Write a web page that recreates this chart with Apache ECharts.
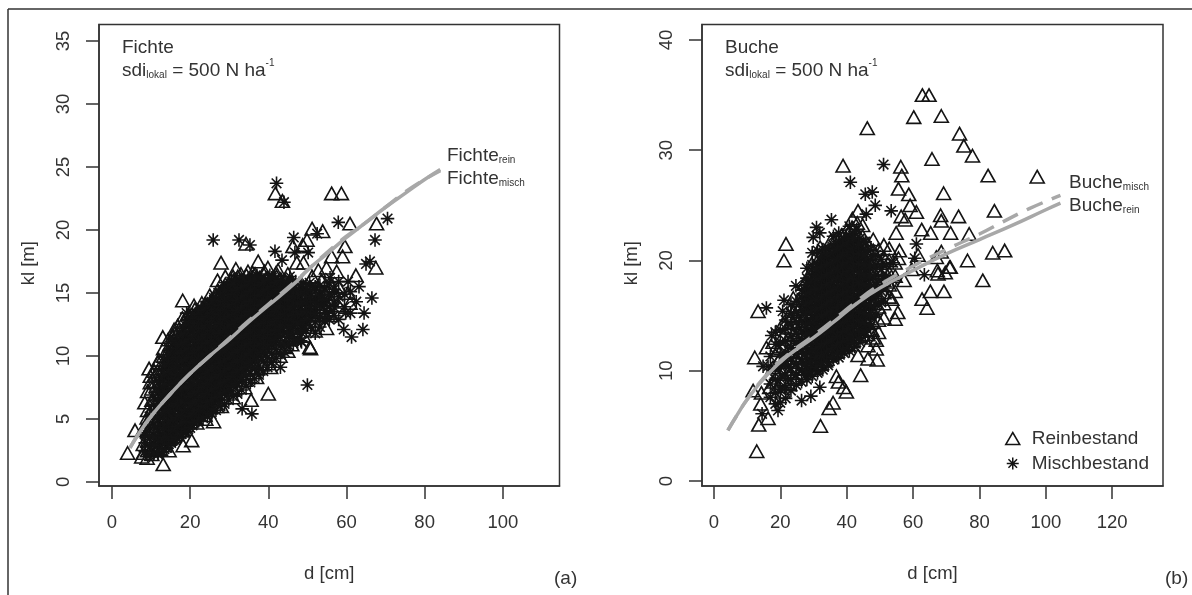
<!DOCTYPE html>
<html><head><meta charset="utf-8"><style>html,body{margin:0;padding:0;background:#fff}#c{width:1192px;height:595px}</style>
<script src="https://cdn.jsdelivr.net/npm/echarts@6/dist/echarts.min.js"></script></head><body><div id="c"></div><script>
// ---- tick labels
const xTicksFichte=[0,20,40,60,80,100], yTicksFichte=[0,5,10,15,20,25,30,35];
const xTicksBuche=[0,20,40,60,80,100,120], yTicksBuche=[0,10,20,30,40];
// ---- Fichte: isolated points read one by one [d,kl]
const fichteReinSolo=[[41.8,22.9],[43.6,22.3],[27.9,17.4],[31.7,16.9],[34.8,16.7],[37.4,17.5],[34.3,18.9],[46.3,18.7],[39.9,17],[47.3,17.4],[42.5,16.8],[56.2,22.9],[58.7,22.9],[60.9,20.5],[67.7,20.5],[51.2,20.1],[53.9,19.9],[49.9,19.2],[48.8,18.8],[59.6,18.7],[49,17.4],[56.2,17.9],[59,17.9],[67.5,17],[57.5,16.7],[62.4,16.4],[51.2,16.3],[54.9,17],[52.8,16.8],[53.6,16],[60.4,15],[60.9,14.2],[54.9,12.2],[45.5,11.6],[44.4,10.7],[50.6,10.7],[4,2.3],[5.9,4.1],[13.1,1.4],[14.6,2.5],[18.2,2.9],[20.4,3.3],[26,4.8],[23.8,5.3],[21.7,4.7],[26.8,6],[35.6,6.5],[40,7],[50.8,10.6],[45,10.4],[40.6,9.1],[38.4,9.4],[18.1,14.4],[21.2,13.7],[23.8,14.1],[13,11.5],[16.1,11.8],[15.9,12.1],[18.2,12.7],[9.5,9],[11.8,9.5],[14.8,10.9],[11,8.4],[9.1,7.2],[8.4,6.3],[9,5.1],[7.6,2],[9,1.9]];
const fichteMischSolo=[[42.1,23.7],[44,22.2],[25.9,19.2],[32.5,19.2],[35.3,18.8],[41.7,18.3],[46.5,19.4],[46.8,18.2],[43.5,17.6],[45.5,16.3],[57.9,20.6],[70.5,20.9],[67.3,19.2],[52.5,19.7],[50.2,18.2],[65,17.3],[66,17.5],[60.4,15.9],[63.2,15.5],[55.8,16.2],[66.5,14.6],[64.5,13.4],[59.8,13.4],[59.3,12.1],[61.3,11.5],[64.2,12.1],[48.5,12.2],[48.5,11.1],[53,13],[33.3,5.8],[35.8,5.4],[50,7.7],[48.3,11.2],[43.1,9.1],[19.1,13.4]];
// ---- Fichte: dense cloud read column by column [d,[kl...]]
const fichteMischCloud=[[8.5,[2.4,3.1,3.9]],[9.6,[2.1,2.8,3.6,4.3,5.2]],[10.7,[2.3,3,3.7,4.5,5.3,6.1,6.7]],[11.8,[2.2,2.9,3.5,4.2,5,5.7,6.4,7.2,7.9]],[12.9,[2.4,3.2,3.8,4.6,5.2,6,6.6,7.3,8.1,8.8]],[14,[2.7,3.3,4.1,4.8,5.4,6.2,6.9,7.5,8.3,9,9.7]],[15.1,[3.1,3.7,4.4,5.1,5.8,6.4,7.1,7.9,8.5,9.2,9.9,10.5]],[16.2,[3.3,4,4.7,5.3,6,6.8,7.4,8.1,8.7,9.5,10.2,10.8]],[17.3,[3.6,4.3,5,5.6,6.4,7,7.7,8.4,9,9.8,10.4,11.1,11.7]],[18.4,[3.9,4.5,5.3,6,6.6,7.3,8,8.6,9.3,10,10.7,11.3,12]],[19.5,[4.2,4.9,5.5,6.2,6.9,7.6,8.2,8.9,9.6,10.3,10.9,11.6,12.3,12.9]],[20.6,[4.5,5.1,5.8,6.5,7.1,7.8,8.5,9.2,9.8,10.6,11.2,11.9,12.5,13.2]],[21.7,[4.8,5.5,6.1,6.8,7.4,8.1,8.8,9.4,10.1,10.8,11.5,12.1,12.8,13.4]],[22.8,[5.2,5.8,6.5,7.1,7.8,8.4,9.1,9.8,10.4,11.1,11.8,12.4,13.1,13.8]],[23.9,[5.5,6.2,6.8,7.5,8.1,8.8,9.5,10.1,10.8,11.4,12.1,12.8,13.4,14]],[25,[5.9,6.5,7.2,7.8,8.5,9.1,9.8,10.5,11.1,11.7,12.4,13.1,13.7,14.3]],[26.1,[6.3,6.9,7.5,8.2,8.8,9.5,10.2,10.8,11.5,12.1,12.7,13.4,14,14.6]],[27.2,[6.6,7.2,7.9,8.5,9.2,9.8,10.5,11.1,11.8,12.4,13.1,13.7,14.3,15]],[28.3,[7,7.6,8.3,8.9,9.5,10.2,10.8,11.5,12.1,12.8,13.4,14,14.7,15.3]],[29.4,[7.3,8,8.6,9.2,9.9,10.5,11.2,11.8,12.4,13.1,13.7,14.4,15,15.5]],[30.5,[7.7,8.3,9,9.6,10.2,10.9,11.5,12.2,12.8,13.4,14.1,14.7,15.3,15.9]],[31.6,[8,8.6,9.3,9.9,10.6,11.2,11.8,12.5,13.1,13.8,14.4,15,15.6,16.1]],[32.7,[8.4,9.1,9.7,10.3,10.9,11.6,12.2,12.8,13.5,14.1,14.7,15.3,15.9]],[33.8,[8.8,9.4,10,10.7,11.3,11.9,12.6,13.2,13.8,14.4,15,15.7,16.2]],[34.9,[9.2,9.8,10.4,11,11.7,12.3,12.9,13.5,14.2,14.8,15.4,16]],[36,[9.5,10.1,10.8,11.4,12,12.6,13.2,13.9,14.5,15.1,15.7,16.3]],[37.1,[9.9,10.5,11.1,11.7,12.4,13,13.6,14.2,14.8,15.4,16,16.4]],[38.2,[10.3,10.9,11.5,12.1,12.7,13.3,14,14.6,15.2,15.8,16.2]],[39.3,[10.6,11.3,11.8,12.5,13.1,13.7,14.3,14.9,15.5,16.1]],[40.4,[11,11.6,12.2,12.9,13.4,14,14.6,15.2,15.8,16.4]],[41.5,[11.4,12,12.6,13.2,13.8,14.4,15,15.6,16.1]],[42.6,[11.9,12.4,13,13.7,14.2,14.8,15.3,15.9]],[43.7,[12.2,12.8,13.4,14,14.6,15.1,15.7]],[44.8,[12.6,13.3,13.9,14.5,15,15.6]],[45.9,[12.3,13,13.6,14.4,15.2,15.8]],[47,[12.8,13.5,14.3,15.1,15.9]],[48.2,[13.1,13.9,14.6,15.4]],[49.4,[12.7,13.6,14.4,15.3]],[50.6,[13.3,14.2,15,15.8]],[52,[13.7,14.6,15.5]],[53.5,[14.1,15]],[55,[13.4,14.4]],[57,[13.8,15]]];
const fichteMischExtra=[[13.4,[2.6,3.5,4.3,5.5,6.3,7,7.7,8.5,9.2]],[14.5,[3,3.6,4.6,5.7,6.5,7.2,7.8,8.7,9.4,10]],[15.6,[3.3,4.1,4.9,6,6.7,7.5,8.2,8.9,9.6,10.3,11]],[16.7,[3.5,4.4,5.1,6.2,7.1,7.8,8.5,9.2,9.9,10.6,11.2]],[17.8,[3.8,4.7,5.3,6.5,7.3,8.1,8.8,9.6,10.2,10.9,11.6]],[18.9,[4,4.8,5.7,6.3,7.5,8.3,9,9.7,10.4,11.1,11.8,12.4]],[20,[4.3,5.2,6,6.8,7.4,8.4,9.1,9.9,10.6,11.3,12,12.7]],[21.1,[4.7,5.4,6.2,7,7.7,8.7,9.4,10.2,10.9,11.6,12.3,13]],[22.2,[4.9,5.7,6.4,7.2,8,8.8,9.7,10.5,11.2,11.9,12.6,13.3]],[23.3,[5.1,6,6.7,7.5,8.3,9,10,10.7,11.5,12.2,12.9,13.6]],[24.4,[5.2,6.3,7,7.8,8.6,9.4,10.2,11,11.7,12.4,13.1,13.8]],[25.5,[5.4,6.5,7.3,8.1,8.9,9.6,10.4,11.2,12,12.7,13.4,14.1]],[26.6,[5.7,6.7,7.4,8.3,9.1,9.9,10.7,11.5,12.3,13,13.7,14.4]],[27.7,[6,6.9,7.7,8.5,9.4,10.2,11,11.8,12.6,13.3,14,14.7]],[28.8,[6.2,7.1,7.9,8.8,9.6,10.4,11.2,12,12.9,13.6,14.3,15]],[29.9,[6.5,7.3,8.1,9,9.8,10.7,11.5,12.3,13.1,13.9,14.6,15.3]],[31,[6.8,7.6,8.4,9.2,10,10.9,11.7,12.5,13.3,14.1,14.9,15.7]],[32.1,[7,7.8,8.7,9.5,10.3,11.1,12,12.8,13.6,14.4,15.2]],[33.2,[7.3,8.1,8.9,9.7,10.5,11.4,12.2,13,13.8,14.6,15.4]],[34.3,[7.6,8.4,9.1,10,10.8,11.6,12.4,13.2,14,14.8,15.6]],[35.4,[7.9,8.6,9.4,10.2,11,11.8,12.7,13.5,14.3,15.1,15.9]],[36.5,[8.2,9,9.7,10.5,11.3,12.1,12.9,13.7,14.5,15.3,16.1]],[37.6,[8.5,9.2,10,10.8,11.6,12.4,13.2,14,14.8,15.6]],[38.7,[8.8,9.6,10.3,11,11.9,12.6,13.4,14.2,15,15.8]],[39.8,[9.1,9.9,10.6,11.4,12.1,12.9,13.7,14.5,15.3,16]],[40.9,[9.5,10.2,10.9,11.7,12.4,13.2,14,14.7,15.5,16.2]],[42,[9.8,10.5,11.2,12,12.7,13.5,14.3,15,15.8]],[43.1,[10.1,10.8,11.5,12.3,13,13.8,14.5,15.3,16]],[44.2,[10.3,11,11.8,12.5,13.3,14,14.8,15.5]],[45.3,[10.8,11.5,12.2,12.9,13.7,14.4,15.1,15.9]],[46.4,[11,11.7,12.4,13.2,13.9,14.7,15.4]],[47.5,[11.3,12,12.7,13.5,14.2,15]],[48.6,[11.8,12.5,13.3,14.1,14.9,15.7]],[49.7,[12,12.8,13.5,14.3,15.1]],[50.8,[12.3,13,13.9,14.7,15.5]],[52,[11.8,12.7,13.4,14.3,15.2]],[53.2,[12.3,13.1,14,14.8,15.6]],[54.4,[12.8,13.6,14.5,15.4]],[55.6,[12.9,13.9,14.9,15.8]],[56.8,[13.2,14.2,15.3]],[58,[12.9,14.7,15.9]],[59.5,[13.9,14.9]],[61,[13.4,15.1]],[62.5,[14.3]]];
const fichteReinCloud=[[8,[2.3,3,4.2]],[9.1,[2.5,3.3,4,4.8,5.7]],[10.2,[2.2,2.7,3.4,4.2,5,5.8,6.5,7.4]],[11.3,[2.5,3.2,3.9,4.7,5.5,6.2,7,7.6]],[12.4,[2.6,3.4,4.1,4.9,5.6,6.3,7,7.8,8.5]],[13.5,[2.9,3.6,4.4,5,5.8,6.5,7.2,7.9,8.6,9.4]],[14.6,[3.4,4,4.7,5.5,6.1,6.8,7.6,8.2,8.9,9.6,10.2]],[15.7,[3.6,4.3,5,5.7,6.4,7.1,7.8,8.4,9.1,9.8,10.6]],[16.8,[4,4.7,5.4,6.1,6.7,7.4,8.1,8.8,9.4,10.1,10.9,11.4]],[17.9,[4.1,4.9,5.6,6.3,7,7.7,8.3,9,9.7,10.4,11,11.6]],[19,[4.5,5.2,5.9,6.6,7.3,8,8.7,9.4,10,10.7,11.4,12.1]],[20.1,[4.8,5.6,6.2,6.9,7.5,8.2,9,9.6,10.3,11,11.7,12.5]],[21.2,[5.1,5.8,6.5,7.2,7.9,8.6,9.2,9.9,10.6,11.3,12,12.7,13.2]],[22.3,[5.6,6.2,6.9,7.6,8.2,8.9,9.6,10.3,10.9,11.6,12.2,13,13.5]],[23.4,[5.9,6.6,7.2,7.9,8.6,9.3,9.9,10.6,11.2,11.9,12.6,13.2,13.8]],[24.5,[6.2,6.9,7.6,8.2,8.9,9.6,10.2,10.9,11.5,12.2,12.9,13.5,14.1]],[25.6,[6.6,7.3,7.9,8.6,9.2,9.9,10.5,11.2,11.8,12.5,13.2,13.8,14.4]],[26.7,[7,7.7,8.3,8.9,9.6,10.2,10.9,11.5,12.2,12.8,13.5,14.1,14.8]],[27.8,[7.4,8,8.6,9.3,9.9,10.6,11.2,11.9,12.5,13.2,13.8,14.5,15.1]],[28.9,[7.7,8.3,9,9.6,10.3,10.9,11.6,12.2,12.9,13.5,14.2,14.8,15.4]],[30,[8,8.7,9.3,10,10.6,11.3,11.9,12.6,13.2,13.8,14.5,15.1,15.7]],[31.1,[8.4,9,9.7,10.3,11,11.6,12.3,12.9,13.5,14.2,14.8,15.4,16]],[32.2,[8.8,9.4,10.1,10.7,11.3,12,12.6,13.2,13.9,14.5,15.1,15.7,16.3]],[33.3,[9.1,9.8,10.4,11,11.7,12.3,12.9,13.6,14.2,14.8,15.4,16]],[34.4,[9.5,10.2,10.8,11.4,12,12.6,13.3,13.9,14.5,15.1,15.8,16.4]],[35.5,[9.9,10.5,11.1,11.8,12.4,13,13.6,14.3,14.9,15.5,16.1]],[36.6,[10.2,10.9,11.5,12.1,12.7,13.4,14,14.6,15.2,15.8,16.5]],[37.7,[10.6,11.2,11.9,12.5,13.1,13.7,14.3,14.9,15.6,16.2]],[38.8,[11,11.6,12.2,12.8,13.5,14.1,14.7,15.3,15.9,16.5]],[39.9,[11.3,11.9,12.6,13.2,13.8,14.4,15,15.6,16.2]],[41,[11.7,12.3,12.9,13.5,14.1,14.8,15.4,16]],[42.1,[12.1,12.7,13.3,13.9,14.5,15.1,15.7,16.3]],[43.2,[11.6,12.5,13.1,13.7,14.3,14.9,15.5,16.1]],[44.3,[12,12.8,13.5,14.2,14.8,15.4,16]],[45.4,[12.5,13.2,13.9,14.6,15.3,15.9]],[46.6,[11.9,13,13.8,14.5,15.2]],[47.8,[12.4,13.4,14.2,15,15.7]],[49,[12.9,13.8,14.7,15.5]],[50.3,[12.3,13.6,14.5]],[51.6,[13.2,14.1,15]],[53,[13.9,14.7]],[54.5,[15]],[56,[13.2,14.5,15.6]],[58,[14,15.5]]];
const fichteReinExtra=[[9.8,[7.9,8.4]],[10.8,[8,8.8]],[12,[9,9.7]],[13.2,[10,10.6]],[14.4,[10.4,11.3]],[15.5,[11,11.6]],[16.8,[11.9,12.4]],[18,[12,13]],[19.5,[12.8,13.3]],[21,[13.2,14]],[23,[14.2]],[25,[14.8]],[27,[15.2,16]],[29,[15.7,16.3]],[31,[16.3]],[33,[16.5]],[36,[16.6]],[39,[16.7]],[42,[16.6]],[45,[16.5]],[24,[5,6]],[28,[6,7]],[31,[6.7,7.4]],[34,[7.5,8.1]],[37,[8.3,9]],[40,[9.4,10]],[43,[10,10.7]],[46,[10.9]],[49,[11.6]],[52,[12]]];
// ---- Buche: isolated points read one by one [d,kl]
const bucheReinSolo=[[62.8,35],[64.8,35],[60.2,33],[68.5,33.1],[46.2,32],[74,31.5],[75.3,30.4],[77.9,29.5],[65.7,29.2],[38.9,28.6],[56.3,28.5],[56.6,27.7],[82.6,27.7],[97.4,27.6],[55.6,26.5],[58.7,26],[69.2,26.1],[59.1,25],[61,24.4],[84.5,24.5],[43.4,24.5],[56.4,24],[68.3,24.1],[57.6,23.7],[68.5,23.6],[73.7,24],[41.7,23.8],[21.7,21.5],[21.1,20],[54.9,22.5],[62.6,22.8],[65.3,22.5],[71.3,22.5],[76.9,22.4],[68.5,20.8],[87.6,20.9],[84,20.7],[76.4,20],[67,20.3],[71,19.4],[67.3,19.1],[69.7,18.9],[81,18.2],[55.9,20.9],[55.6,20.2],[12.9,2.7],[32.1,5],[13.5,5.1],[34.7,6.6],[35.9,7.1],[16.3,5.7],[14.1,7],[14.3,8],[11.8,8.2],[16.8,8.5],[39.9,8.1],[39.1,8.5],[44.2,9.6],[36.9,9.5],[37.5,9],[12.3,11.2],[13.3,15.4],[23.9,16.6],[15.8,12.1],[69.3,17.2],[65.2,17.2],[62.7,16.5],[64.2,15.7],[55.4,15.3],[54.6,14.7],[53.6,16.5],[49.2,11],[46.4,11.1],[48.9,12],[48.9,12.8],[47.6,13.7],[43.4,11.4],[45.9,15.3],[67.5,18.8],[71.2,19.4],[57.3,18.2],[59.6,19.2],[61.5,20.5]];
const bucheMischSolo=[[51.1,28.7],[41.1,27.1],[45.6,26],[47.7,26.2],[48.6,25],[53.4,24.5],[35.4,23.7],[45.9,24.2],[30.9,23],[29.9,22.1],[31.9,22.5],[61,21.5],[60.5,20.2],[63.4,18.7],[14.5,6.1],[19.3,6.4],[26.4,7.3],[29.2,7.7],[31.9,8.5],[14.8,10.4],[16.3,10.4],[15.8,15.7],[24.7,17.7],[21.1,16.4],[20.7,15.4],[26.9,16.3],[17.4,13.2],[43,22.8],[39.5,21.9]];
// ---- Buche: dense cloud read column by column [d,[kl...]]
const bucheMischCloud=[[17,[7.6,8.8,11.3]],[18.5,[7,8,9.2,10.1,12.4,13.5]],[20,[7.1,8.3,9.3,10.4,11.5,12.6,13.7]],[21.6,[7.5,8.5,9.6,10.6,11.7,12.7,13.8,14.6]],[23.2,[8.2,9.2,10.2,11.1,12.1,13.1,14.2,15.2,16]],[24.8,[8.7,9.6,10.6,11.5,12.5,13.4,14.4,15.3,16.3]],[26.4,[9,10,10.8,11.7,12.6,13.6,14.5,15.5,16.6,17.3]],[28,[9.2,10.1,11,11.9,12.8,13.7,14.6,15.6,16.5,17.4,18.4,19.3]],[29.6,[9.5,10.4,11.2,12.1,13,13.9,14.8,15.7,16.6,17.6,18.6,19.6,20.7]],[31.2,[9.8,10.7,11.6,12.4,13.3,14.2,15.1,16,17,17.9,18.8,19.7,20.9]],[32.8,[10.1,11,11.8,12.7,13.6,14.5,15.4,16.3,17.2,18.1,19,20,21]],[34.4,[10.5,11.3,12.2,13.1,13.9,14.8,15.7,16.6,17.5,18.4,19.3,20.2,21.1]],[36,[11,11.8,12.6,13.5,14.3,15.2,16.1,17,17.8,18.7,19.6,20.5,21.4,22.2]],[37.6,[11.2,12.1,12.9,13.8,14.6,15.5,16.4,17.3,18.1,19,19.9,20.8,21.7,22.5]],[39.2,[11.6,12.4,13.3,14.1,15,15.9,16.7,17.6,18.5,19.3,20.2,21.1,22]],[40.8,[11.8,12.7,13.5,14.4,15.3,16.1,17,17.9,18.7,19.6,20.5,21.4,22.3,23.1]],[42.4,[12.2,13.1,14,14.8,15.7,16.5,17.4,18.2,19.1,20,20.8,21.7,22.6]],[44,[12.6,13.5,14.3,15.2,16,16.9,17.7,18.6,19.5,20.3,21.2,22]],[45.6,[13.2,14,14.9,15.7,16.6,17.5,18.3,19.2,20,20.9,21.7]],[47.2,[14,14.9,15.8,16.7,17.6,18.4,19.3,20.1,21]],[48.8,[15.1,16,16.9,17.8,18.7,19.6,20.5]],[50.4,[16.2,17.2,18.2,19.2,20.1]],[52,[17.5,18.6,19.6]],[54,[18.2,19.8]]];
const bucheMischExtra=[[27.6,[9.6,10.6,11.5,12.4,13.3,14.2,15.1,16.1,17,17.8]],[29.2,[9.9,10.8,11.7,12.5,13.4,14.3,15.3,16.2,17.1,18]],[30.8,[10.3,11.2,12,12.9,13.7,14.7,15.5,16.4,17.4,18.3,19.2]],[32.4,[10.5,11.4,12.2,13.1,14,14.9,15.7,16.6,17.5,18.4,19.4,20.3]],[34,[10.8,11.7,12.5,13.4,14.3,15.1,16,16.9,17.8,18.7,19.6,20.6]],[35.6,[11.2,12,12.8,13.7,14.5,15.4,16.3,17.2,18,18.9,19.8,20.7]],[37.2,[11.5,12.3,13.1,14,14.8,15.7,16.6,17.4,18.3,19.2,20.1,21]],[38.8,[11.8,12.6,13.5,14.3,15.2,16,16.9,17.8,18.6,19.5,20.4,21.3]],[40.4,[12.1,12.9,13.8,14.6,15.5,16.3,17.2,18.1,19,19.8,20.7,21.6]],[42,[12.5,13.3,14.1,15,15.8,16.7,17.6,18.4,19.3,20.2,21.1,22]],[43.6,[12.9,13.7,14.6,15.4,16.3,17.2,18,18.9,19.7,20.6,21.5]],[45.2,[13.5,14.4,15.2,16.1,17,17.8,18.7,19.6,20.5]],[46.8,[14.2,15.1,16,16.9,17.7,18.6,19.5]]];
const bucheReinCloud=[[17.8,[9,10.3,12.6]],[19.3,[8.6,9.7,10.8,11.9]],[20.8,[8.1,9.2,11,12.2,13.2,14.3]],[22.4,[8.9,9.9,10.9,11.8,12.9,13.9,15]],[24,[9.4,10.4,11.4,12.3,13.3,14.3,15.4]],[25.6,[9.8,10.8,11.7,12.6,13.5,14.5,15.6,16.4]],[27.2,[10.2,11.1,12.1,13,13.9,14.8,15.8,16.8,17.9]],[28.8,[10.5,11.4,12.3,13.2,14.1,15,15.9,16.9,17.8,18.8]],[30.4,[10.2,11.1,12,12.9,13.8,14.7,15.6,16.5,17.4,18.4,19.3,20.2]],[32,[10.6,11.5,12.3,13.2,14.1,15,15.9,16.8,17.7,18.6,19.5,20.4,21.2]],[33.6,[10.9,11.8,12.6,13.5,14.4,15.3,16.2,17.1,18,18.9,19.8,20.7]],[35.2,[11.4,12.2,13,13.9,14.7,15.6,16.5,17.4,18.3,19.2,20.1,21,21.8]],[36.8,[11.7,12.5,13.4,14.2,15.1,15.9,16.8,17.7,18.6,19.4,20.3,21.2,22]],[38.4,[12.1,12.9,13.7,14.6,15.4,16.3,17.1,18,18.9,19.7,20.6,21.5,22.3]],[40,[12.4,13.2,14,14.9,15.7,16.6,17.4,18.3,19.2,20,20.9,21.8,22.7]],[41.6,[12.7,13.5,14.4,15.2,16.1,16.9,17.8,18.6,19.5,20.4,21.2,22.1,23]],[43.2,[13.1,13.9,14.7,15.6,16.4,17.3,18.1,19,19.9,20.7,21.6,22.5,23.4]],[44.8,[13.6,14.4,15.3,16.1,17,17.8,18.7,19.5,20.4,21.3,22.2,23.2]],[46.4,[12.3,13.3,14.3,15.2,16.1,17,17.9,18.8,19.7,20.6,21.5]],[48,[13,14.4,15.4,16.4,17.3,18.2,19.1,20,20.9,21.9]],[49.6,[13.5,14.6,15.8,16.8,17.8,18.9,19.9,21]],[51.2,[14.8,16.1,17.1,18.2,19.2,20.3,21.4]],[52.8,[16.7,17.8,18.9,20,21.1]],[54.6,[17.2,18.6,19.8]]];
// ---- fitted curves [d,kl]
const fichteReinCurve=[[4.6,2.7],[7,3.9],[10.5,5.4],[15,7],[20,8.6],[25,10],[30,11.3],[35,12.7],[40,14],[47.2,15.9],[50,16.8],[55,18.1],[60,19.4],[65,20.6],[70,21.8],[75,22.9],[80,24],[84,24.8]];
const fichteMischCurve=[[4.6,2.7],[7,3.9],[10.5,5.4],[15,7],[20,8.6],[25,10],[30,11.4],[35,12.8],[40,14.1],[47.2,16],[50,16.8],[55,18.2],[60,19.5],[65,20.6],[70,21.8],[75,23],[80,24],[84,24.7]];
const bucheReinCurve=[[4.2,4.6],[7,6],[10,7.4],[16,9.6],[22,11.3],[30,13],[36,14.4],[43,16.1],[50,17.5],[60,19.1],[70,20.6],[80,21.9],[90,23.2],[100,24.6],[104.4,25.2]];
const bucheMischCurve=[[4.2,4.6],[7,6],[10,7.4],[16,9.7],[22,11.4],[30,13.2],[36,14.6],[43,16.3],[50,17.8],[60,19.5],[70,21],[80,22.4],[87,23.5],[95,24.7],[104.4,25.9]];

const unroll=(solo,...clouds)=>solo.concat(clouds.flat().flatMap(c=>c[1].map(k=>[c[0],k])));
const ink='#141414', txt='#333333', grey='#a8a8a8', fam='"Liberation Sans",Arial,sans-serif';
const TRI='triangle', STAR='path://M0,-7L0,7M-7,0L7,0M-5,-5L5,5M-5,5L5,-5';
const scat=(name,data,sym,size,i)=>({type:'scatter',name,data,symbol:sym,symbolSize:size,xAxisIndex:i,yAxisIndex:i,silent:true,itemStyle:{color:'rgba(0,0,0,0)',borderColor:ink,borderWidth:1.6,opacity:1}});
const curve=(name,data,i,dash)=>({type:'line',name,data,xAxisIndex:i,yAxisIndex:i,showSymbol:false,smooth:true,silent:true,z:5,lineStyle:{color:grey,width:3.5,type:dash?[17,10]:'solid'}});
const xa=(min,max,t,i)=>({type:'value',gridIndex:i,min,max,name:'d [cm]',nameLocation:'middle',nameGap:78,nameTextStyle:{fontFamily:fam,fontSize:18.5,color:txt},splitLine:{show:false},axisLine:{onZero:false,lineStyle:{color:'#333',width:1.5}},axisTick:{length:13,customValues:t,lineStyle:{color:'#333',width:1.5}},axisLabel:{customValues:t,margin:27,fontFamily:fam,fontSize:18.5,color:txt}});
const ya=(min,max,t,i)=>({type:'value',gridIndex:i,min,max,name:'kl [m]',nameLocation:'middle',nameGap:61,nameTextStyle:{fontFamily:fam,fontSize:18.5,color:txt,padding:[0,16,0,0]},splitLine:{show:false},axisLine:{onZero:false,lineStyle:{color:'#333',width:1.5}},axisTick:{length:13,customValues:t,lineStyle:{color:'#333',width:1.5}},axisLabel:{customValues:t,rotate:90,margin:26,align:'center',fontFamily:fam,fontSize:18.5,color:txt}});
const rich={n:{fontFamily:fam,fontSize:19,color:txt,lineHeight:22,verticalAlign:'bottom'},s:{fontFamily:fam,fontSize:10,color:'#555',lineHeight:22,verticalAlign:'bottom',padding:[7,0,0,0]},u:{fontFamily:fam,fontSize:10,color:'#555',lineHeight:22,verticalAlign:'top',padding:[0,0,6,0]}};
const label=(x,y,text)=>({type:'text',x,y,silent:true,style:{text,rich,fontFamily:fam,fontSize:19,fill:txt,lineHeight:22}});
const opt={animation:false,backgroundColor:'#fff',
 grid:[{left:99,top:24.5,width:460.5,height:461.5,show:true,borderColor:'#333',borderWidth:1.5,backgroundColor:'transparent'},
       {left:702,top:24.5,width:461,height:461.5,show:true,borderColor:'#333',borderWidth:1.5,backgroundColor:'transparent'}],
 xAxis:[xa(-3.32,114.5,xTicksFichte,0),xa(-3.6,135.3,xTicksBuche,1)],
 yAxis:[ya(-0.32,36.3,yTicksFichte,0),ya(-0.45,41.4,yTicksBuche,1)],
 legend:{left:1005,top:429,padding:0,orient:'vertical',itemGap:6,itemWidth:14,itemHeight:12,selectedMode:false,
   textStyle:{fontFamily:fam,fontSize:19,color:txt,padding:[0,0,0,7]},
   data:[{name:'Reinbestand',icon:TRI,itemStyle:{color:'rgba(0,0,0,0)',borderColor:ink,borderWidth:1.5}},{name:'Mischbestand',icon:STAR,itemStyle:{color:'rgba(0,0,0,0)',borderColor:ink,borderWidth:1.5}}]},
 series:[scat('Reinbestand',unroll(fichteReinSolo,fichteReinCloud,fichteReinExtra),TRI,[14,12.5],0),
         scat('Mischbestand',unroll(fichteMischSolo,fichteMischCloud,fichteMischExtra),STAR,[13.5,13.5],0),
         curve('Fichte rein',fichteReinCurve,0,false),curve('Fichte misch',fichteMischCurve,0,true),
         scat('Reinbestand',unroll(bucheReinSolo,bucheReinCloud),TRI,[14,12.5],1),
         scat('Mischbestand',unroll(bucheMischSolo,bucheMischCloud,bucheMischExtra),STAR,[13.5,13.5],1),
         curve('Buche rein',bucheReinCurve,1,false),curve('Buche misch',bucheMischCurve,1,true)],
 graphic:[
  {type:'line',silent:true,shape:{x1:8,y1:9,x2:1192,y2:9},style:{stroke:'#333',lineWidth:1.5}},
  {type:'line',silent:true,shape:{x1:8,y1:9,x2:8,y2:595},style:{stroke:'#333',lineWidth:1.5}},
  label(122,35,'{n|Fichte}'),
  label(122,58,'{n|sdi}{s|lokal}{n| = 500 N ha}{u|-1}'),
  label(725,35,'{n|Buche}'),
  label(725,58,'{n|sdi}{s|lokal}{n| = 500 N ha}{u|-1}'),
  label(447,143,'{n|Fichte}{s|rein}'),
  label(447,166,'{n|Fichte}{s|misch}'),
  label(1069,170,'{n|Buche}{s|misch}'),
  label(1069,193,'{n|Buche}{s|rein}'),
  label(554,566,'{n|(a)}'),
  label(1165,566,'{n|(b)}')
 ]};
echarts.init(document.getElementById('c')).setOption(opt);
</script></body></html>
